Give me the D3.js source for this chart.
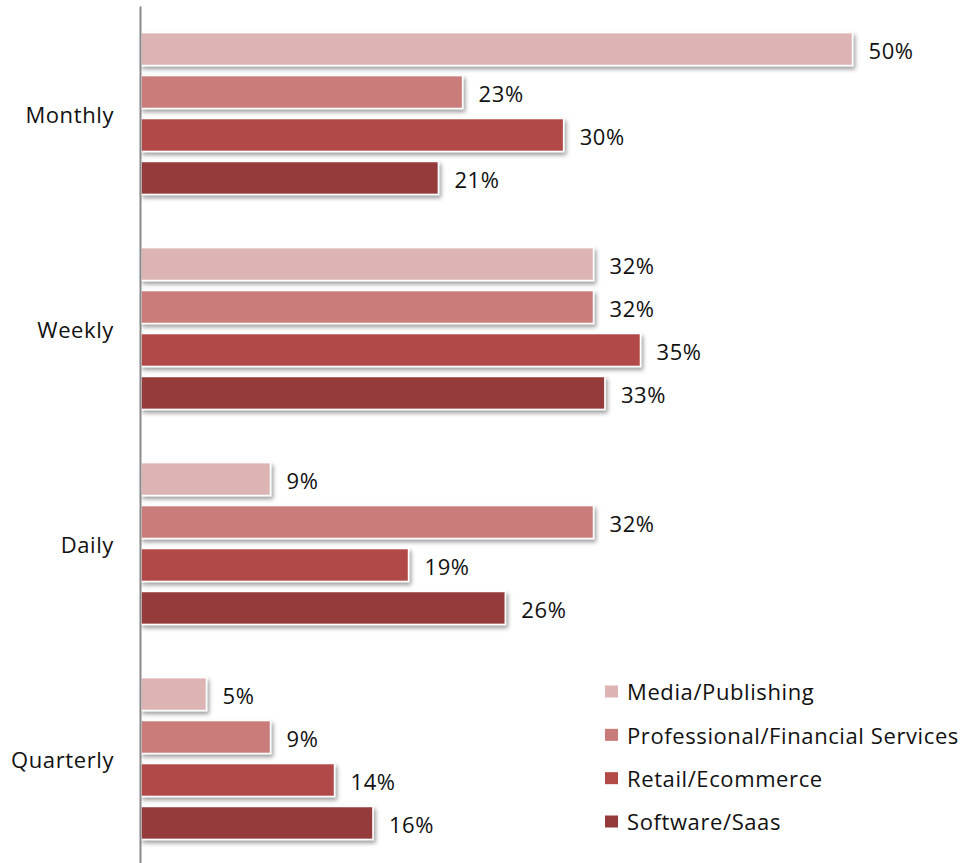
<!DOCTYPE html>
<html>
<head>
<meta charset="utf-8">
<script src="https://cdn.jsdelivr.net/npm/d3@7"></script>
<style>
  html, body { margin: 0; padding: 0; background: #ffffff; }
  svg { display: block; }
  text { font-family: "Open Sans", "Noto Sans", sans-serif; fill: #111; letter-spacing: 0.6px; }
</style>
</head>
<body>
<svg id="chart" width="961" height="863"></svg>
<script>
// ---- data ----
const categories = ["Monthly", "Weekly", "Daily", "Quarterly"];
const seriesNames = ["Media/Publishing", "Professional/Financial Services", "Retail/Ecommerce", "Software/Saas"];
const mediaPublishing      = [0.500, 0.318, 0.091, 0.046];
const professionalFinancial = [0.226, 0.318, 0.318, 0.091];
const retailEcommerce      = [0.297, 0.351, 0.188, 0.136];
const softwareSaas         = [0.209, 0.326, 0.256, 0.163];
const seriesColors = ["#ddb4b4", "#c97b7a", "#b24a48", "#953a3a"];

const seriesValues = [mediaPublishing, professionalFinancial, retailEcommerce, softwareSaas];
const rows = [];
categories.forEach((c, ci) => {
  seriesNames.forEach((s, si) => rows.push({ category: c, series: s, si, value: seriesValues[si][ci] }));
});

const svg = d3.select("#chart");

const defs = svg.append("defs");
const f = defs.append("filter").attr("id", "shadow")
  .attr("x", "-5%").attr("y", "-30%").attr("width", "115%").attr("height", "180%");
f.append("feDropShadow").attr("dx", 2).attr("dy", 3).attr("stdDeviation", 2)
  .attr("flood-color", "#000").attr("flood-opacity", 0.38);

const x = d3.scaleLinear().domain([0, 0.5]).range([141, 852.5]);
const y0 = d3.scaleBand().domain(categories).range([6, 866]).paddingInner(0).paddingOuter(0);
const y1 = d3.scaleBand().domain(seriesNames).range([26.6, y0.bandwidth() - 26.6]).paddingInner(0.234);

const color = d3.scaleOrdinal().domain(seriesNames).range(seriesColors);
const fmt = d3.format(".0%");

// bars
const bars = svg.append("g");
bars.selectAll("rect").data(rows).join("rect")
  .attr("x", x(0))
  .attr("y", d => y0(d.category) + y1(d.series))
  .attr("width", d => x(d.value) - x(0))
  .attr("height", y1.bandwidth())
  .attr("fill", d => color(d.series))
  .attr("stroke", "#ffffff")
  .attr("stroke-width", 1.5)
  .attr("filter", "url(#shadow)");

// value labels
svg.append("g").selectAll("text").data(rows).join("text")
  .attr("x", d => x(d.value) + 16)
  .attr("y", d => y0(d.category) + y1(d.series) + y1.bandwidth() / 2 + 2)
  .attr("dy", "0.35em")
  .attr("font-size", 22)
  .text(d => fmt(d.value));

// category axis (line only, no ticks)
const yAxis = d3.axisLeft(y0).tickSize(0).tickPadding(26);
const gAxis = svg.append("g").attr("transform", "translate(140,0)").call(yAxis);
gAxis.select(".domain").attr("stroke", "#8a8a8a").attr("stroke-width", 2);
gAxis.selectAll(".tick text")
  .attr("font-size", 22)
  .attr("font-family", "'Open Sans', 'Noto Sans', sans-serif")
  .attr("fill", "#111")
  .attr("y", 2);

// legend
const legend = svg.append("g");
const ly = d3.scalePoint().domain(seriesNames).range([691.5, 821.5]);
const li = legend.selectAll("g").data(seriesNames).join("g")
  .attr("transform", d => `translate(605,${ly(d)})`);
li.append("rect").attr("x", 0).attr("y", -6).attr("width", 13).attr("height", 12)
  .attr("fill", d => color(d));
li.append("text").attr("x", 22).attr("y", 1).attr("dy", "0.35em")
  .attr("font-size", 22).text(d => d);
</script>
</body>
</html>
